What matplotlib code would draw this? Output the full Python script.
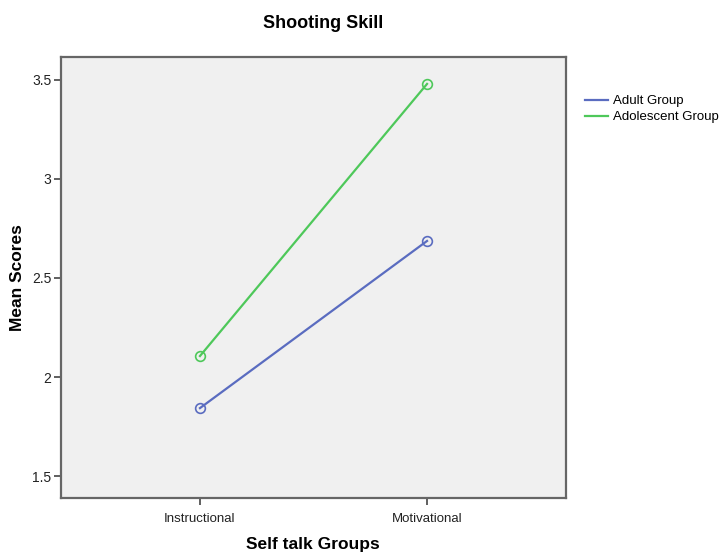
import matplotlib
matplotlib.use("Agg")
import matplotlib.pyplot as plt
from matplotlib.lines import Line2D

plt.rcParams["font.family"] = ["Liberation Sans", "DejaVu Sans"]

# data
groups = ["Instructional", "Motivational"]
adult_scores = [1.843, 2.687]
adolescent_scores = [2.106, 3.480]
y_ticks = [1.5, 2.0, 2.5, 3.0, 3.5]
y_tick_labels = ["1.5", "2", "2.5", "3", "3.5"]

_W, _H = 722, 555
_DPI = 100
_ADULT_C = "#5a6cc0"
_ADOL_C = "#4ec85a"

fig = plt.figure(figsize=(_W / _DPI, _H / _DPI), dpi=_DPI)
# axes box in pixel coords: left 61, right 566, top 57, bottom 498
ax = fig.add_axes([61 / _W, 1 - 498 / _H, (566 - 61) / _W, (498 - 57) / _H])
ax.set_facecolor("#f0f0f0")

x = list(range(len(groups)))
ax.plot(x, adult_scores, color=_ADULT_C, lw=1.6, marker="o", ms=7,
        mfc="none", mec=_ADULT_C, mew=1.2)
ax.plot(x, adolescent_scores, color=_ADOL_C, lw=1.6, marker="o", ms=7,
        mfc="none", mec=_ADOL_C, mew=1.2)

ax.set_xlim(-0.612, 1.612)
ax.set_ylim(1.389, 3.616)
ax.set_xticks(x)
ax.set_xticklabels(groups)
ax.set_yticks(y_ticks)
ax.set_yticklabels(y_tick_labels)
ax.tick_params(axis="both", direction="out", length=5, width=1.2,
               color="#444444", labelcolor="#222222")
ax.tick_params(axis="y", labelsize=10, pad=2)
ax.tick_params(axis="x", labelsize=9.5, pad=6)

for sp in ax.spines.values():
    sp.set_color("#666666")
    sp.set_linewidth(1.6)

fig.text(323 / _W, 1 - 24 / _H, "Shooting Skill", ha="center", va="center",
         fontsize=13, fontweight="bold")
fig.text(313 / _W, 1 - 545 / _H, "Self talk Groups", ha="center", va="center",
         fontsize=12.5, fontweight="bold")
fig.text(18 / _W, 1 - 278 / _H, "Mean Scores", ha="center", va="center",
         rotation=90, fontsize=12.5, fontweight="bold")

# legend shows plain lines only (no markers); the reference clips it at the right edge
handles = [Line2D([], [], color=_ADULT_C, lw=1.6),
           Line2D([], [], color=_ADOL_C, lw=1.6)]
fig.legend(handles, ["Adult Group", "Adolescent Group"], loc="upper left",
           bbox_to_anchor=(585 / _W, 1 - 95 / _H), frameon=False,
           fontsize=9.5, handlelength=1.75, handletextpad=0.38,
           labelspacing=0.3, borderaxespad=0, borderpad=0)

fig.savefig("out.png", dpi=_DPI)
plt.close(fig)
